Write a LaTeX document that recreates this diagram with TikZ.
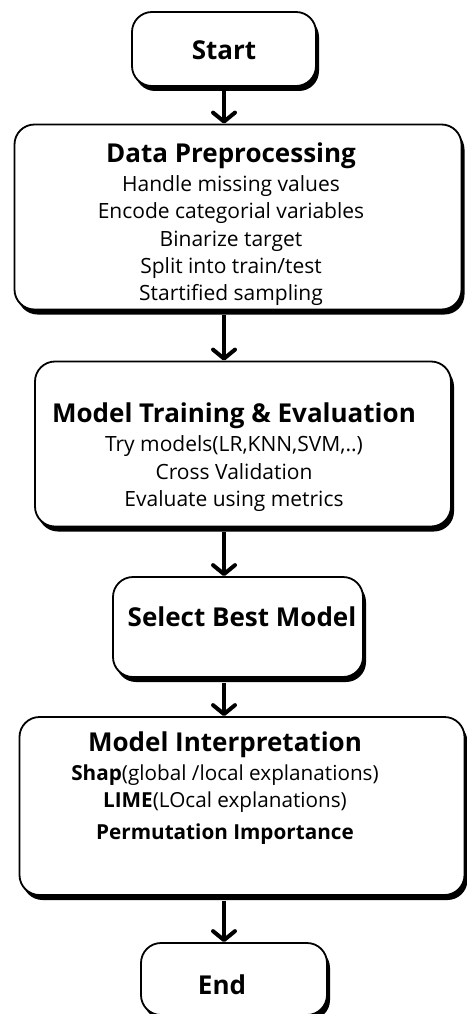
\documentclass[tikz,border=0pt]{standalone}
\usepackage{fontspec}
\setmainfont{Open Sans}
\usetikzlibrary{arrows.meta,positioning,shadows}

\newcommand{\boxtitle}[1]{{\fontsize{26}{30}\selectfont\bfseries #1}}

\begin{document}
\begin{tikzpicture}[x=1pt,y=-1pt,->,>={Straight Barb[length=9pt,width=22pt,round]},line width=4pt,
	roundedbox/.style={rectangle,draw,fill=white,line width=1.8pt,rounded corners=20pt,
		drop shadow={shadow xshift=3pt,shadow yshift=-5pt,opacity=1,fill=black}},
	textnode/.style={align=center,inner sep=0pt,font=\fontsize{21}{27.3}\selectfont}]

	\useasboundingbox (0,0) rectangle (466,1014);

	\node [roundedbox,minimum width=184pt,minimum height=74pt] (start) at (224,49) {};
	\node [roundedbox,minimum width=447pt,minimum height=185pt] (prep) at (238,217) {};
	\node [roundedbox,minimum width=416pt,minimum height=165pt] (train) at (243,444) {};
	\node [roundedbox,minimum width=250pt,minimum height=100pt] (select) at (238,627) {};
	\node [roundedbox,minimum width=445pt,minimum height=178pt] (interp) at (242,806) {};
	\node [roundedbox,minimum width=186pt,minimum height=72pt] (end) at (234,979) {};

	\node [textnode] (starttext) at (224,50) {\boxtitle{Start}};
	\node [textnode] (preptext) at (231,224) {\boxtitle{Data Preprocessing}\\[2pt]
		Handle missing values\\ Encode categorial variables\\ Binarize target\\
		Split into train/test\\ Startified sampling};
	\node [textnode] (traintext) at (234,457) {\boxtitle{Model Training \& Evaluation}\\[2pt]
		Try models(LR,KNN,SVM,..)\\ Cross Validation\\ Evaluate using metrics};
	\node [textnode] (selecttext) at (242,617) {\boxtitle{Select Best Model}};
	\node [textnode,font=\fontsize{20.7}{27}\selectfont] (interptext) at (225,788) {\boxtitle{Model Interpretation}\\[2pt]
		\textbf{Shap}(global /local explanations)\\ \textbf{LIME}(LOcal explanations)\\[5pt]
		\textbf{Permutation Importance}};
	\node [textnode] (endtext) at (222,985) {\boxtitle{End}};

	\draw (start.south) to (prep.north -| start.south);
	\draw ([yshift=-5pt]prep.south -| start.south) to (train.north -| start.south);
	\draw ([yshift=-5pt]train.south -| start.south) to (select.north -| start.south);
	\draw ([yshift=-5pt]select.south -| start.south) to (interp.north -| start.south);
	\draw ([yshift=-5pt]interp.south -| start.south) to (end.north -| start.south);

\end{tikzpicture}
\end{document}
